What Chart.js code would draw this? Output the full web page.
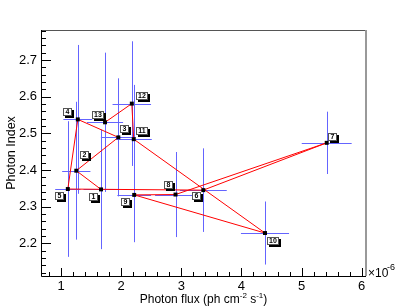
<!DOCTYPE html>
<html>
<head>
<meta charset="utf-8">
<script src="https://cdn.jsdelivr.net/npm/chart.js@4.4.0/dist/chart.umd.min.js"></script>
<style>
body { margin: 0; background: #fff; }
#wrap { width: 407px; height: 307px; }
</style>
</head>
<body>
<div id="wrap"><canvas id="myChart" width="407" height="307"></canvas></div>
<script>
// data (flux in units of 1e-6 ph cm-2 s-1)
const pointLabels = ['1', '2', '3', '4', '5', '6', '7', '8', '9', '10', '11', '12', '13'];
const fluxVals  = [1.665, 1.254, 1.953, 1.279, 1.113, 3.366, 5.418, 2.904, 2.217, 4.392, 2.209, 2.177, 1.732];
const fluxErr   = [0.29, 0.235, 0.29, 0.24, 0.21, 0.39, 0.415, 0.34, 0.28, 0.40, 0.30, 0.32, 0.30];
const indexVals = [2.347, 2.398, 2.489, 2.538, 2.348, 2.345, 2.474, 2.333, 2.332, 2.228, 2.484, 2.581, 2.530];
const indexErr  = [0.163, 0.188, 0.161, 0.203, 0.185, 0.114, 0.085, 0.116, 0.129, 0.086, 0.148, 0.170, 0.190];
const xTicks = [1, 2, 3, 4, 5, 6];
const yTicks = [2.2, 2.3, 2.4, 2.5, 2.6, 2.7];

// where each number box sits relative to its point (px)
const labelOffsets = [[-8, 8], [8, -16], [6, -8], [-10, -7], [-8, 7], [-7, 6], [6, -6],
                      [-7, -10], [-9, 7], [8, 8], [8, -8], [10, -8], [-7, -7]];

const FONT = '"Liberation Sans", Arial, sans-serif';

const rootPlot = {
    id: 'rootPlot',
    beforeDatasetsDraw(chart) {
        const {ctx, scales: {x, y}} = chart;
        ctx.save();
        ctx.strokeStyle = '#6464ff';
        ctx.lineWidth = 1;
        ctx.beginPath();
        for (let i = 0; i < fluxVals.length; i++) {
            const px = Math.round(x.getPixelForValue(fluxVals[i])) + 0.5;
            const py = Math.round(y.getPixelForValue(indexVals[i])) + 0.5;
            ctx.moveTo(x.getPixelForValue(fluxVals[i] - fluxErr[i]), py);
            ctx.lineTo(x.getPixelForValue(fluxVals[i] + fluxErr[i]), py);
            ctx.moveTo(px, y.getPixelForValue(indexVals[i] + indexErr[i]));
            ctx.lineTo(px, y.getPixelForValue(indexVals[i] - indexErr[i]));
        }
        ctx.stroke();
        ctx.restore();
    },
    afterDatasetsDraw(chart) {
        const {ctx, scales: {x, y}} = chart;
        ctx.save();
        ctx.font = 'bold 7px ' + FONT;
        ctx.textAlign = 'center';
        ctx.textBaseline = 'middle';
        for (let i = 0; i < pointLabels.length; i++) {
            const cx = x.getPixelForValue(fluxVals[i]) + labelOffsets[i][0];
            const cy = y.getPixelForValue(indexVals[i]) + labelOffsets[i][1];
            const w = pointLabels[i].length > 1 ? 12 : 9;
            const h = 8;
            const bx = Math.round(cx - w / 2), by = Math.round(cy - h / 2);
            ctx.fillStyle = '#000';
            ctx.fillRect(bx + 2, by + 2, w, h);
            ctx.fillStyle = '#fff';
            ctx.fillRect(bx, by, w, h);
            ctx.strokeStyle = '#555';
            ctx.lineWidth = 1;
            ctx.strokeRect(bx + 0.5, by + 0.5, w - 1, h - 1);
            ctx.fillStyle = '#000';
            ctx.fillText(pointLabels[i], bx + w / 2, by + h / 2 + 0.5);
        }
        ctx.restore();
    },
    afterDraw(chart) {
        const {ctx, chartArea: a, scales: {x, y}} = chart;
        ctx.save();
        // frame
        ctx.lineWidth = 1;
        ctx.strokeStyle = '#555';
        ctx.beginPath();
        ctx.moveTo(a.left, a.top + 0.5);
        ctx.lineTo(a.right, a.top + 0.5);
        ctx.stroke();
        ctx.strokeStyle = '#999';
        ctx.lineWidth = 2;
        ctx.beginPath();
        ctx.moveTo(a.right, a.top);
        ctx.lineTo(a.right, a.bottom);
        ctx.stroke();

        ctx.strokeStyle = '#000';
        ctx.lineWidth = 1;
        ctx.beginPath();
        ctx.moveTo(a.left + 0.5, a.top);
        ctx.lineTo(a.left + 0.5, a.bottom + 0.5);
        ctx.lineTo(a.right, a.bottom + 0.5);
        // x ticks, every 0.2, major every 1
        for (let k = 4; k <= 30; k++) {
            const v = k * 0.2;
            if (v < x.min || v > x.max) continue;
            const px = Math.round(x.getPixelForValue(v)) + 0.5;
            const len = (k % 5 === 0) ? 8 : 4;
            ctx.moveTo(px, a.bottom);
            ctx.lineTo(px, a.bottom - len);
        }
        // y ticks, every 0.02, major every 0.1
        for (let k = 105; k <= 140; k++) {
            const v = k * 0.02;
            if (v < y.min || v > y.max) continue;
            const py = Math.round(y.getPixelForValue(v)) + 0.5;
            const len = (k % 5 === 0) ? 10 : 5;
            ctx.moveTo(a.left, py);
            ctx.lineTo(a.left + len, py);
        }
        ctx.stroke();

        // tick labels
        ctx.fillStyle = '#000';
        ctx.font = '13px ' + FONT;
        ctx.textAlign = 'center';
        ctx.textBaseline = 'alphabetic';
        xTicks.forEach(v => ctx.fillText(String(v), x.getPixelForValue(v), 290));
        ctx.textAlign = 'right';
        ctx.textBaseline = 'middle';
        yTicks.forEach(v => ctx.fillText(v.toFixed(1), a.left - 4, y.getPixelForValue(v)));

        // exponent
        ctx.textAlign = 'left';
        ctx.textBaseline = 'alphabetic';
        ctx.font = '12px ' + FONT;
        ctx.fillText('\u00d710', 368, 277);
        ctx.font = '9px ' + FONT;
        ctx.fillText('-6', 387, 270);

        // x title with superscripts
        const parts = [['Photon flux (ph cm', 12, 0], ['-2', 8, -5], [' s', 12, 0], ['-1', 8, -5], [')', 12, 0]];
        let total = 0;
        parts.forEach(p => { ctx.font = p[1] + 'px ' + FONT; total += ctx.measureText(p[0]).width; });
        let tx = (a.left + a.right) / 2 - total / 2;
        parts.forEach(p => {
            ctx.font = p[1] + 'px ' + FONT;
            ctx.fillText(p[0], tx, 303 + p[2]);
            tx += ctx.measureText(p[0]).width;
        });

        // y title
        ctx.translate(12, 153);
        ctx.rotate(-Math.PI / 2);
        ctx.font = '12.5px ' + FONT;
        ctx.textAlign = 'center';
        ctx.textBaseline = 'middle';
        ctx.fillText('Photon Index', 0, 0);
        ctx.restore();
    }
};

const ctx = document.getElementById('myChart').getContext('2d');
const myChart = new Chart(ctx, {
    type: 'scatter',
    data: {
        datasets: [{
            data: fluxVals.map((v, i) => ({x: v, y: indexVals[i]})),
            showLine: true,
            borderColor: '#ff0000',
            borderWidth: 1,
            pointStyle: 'rect',
            pointRadius: 2.8,
            pointBackgroundColor: '#000',
            pointBorderColor: '#000',
            pointBorderWidth: 0
        }]
    },
    options: {
        responsive: false,
        animation: false,
        layout: { padding: { left: 41, right: 41, top: 30, bottom: 31 } },
        scales: {
            x: { type: 'linear', display: false, min: 0.667, max: 6.0715 },
            y: { type: 'linear', display: false, min: 2.1108, max: 2.7818 }
        },
        plugins: {
            legend: { display: false },
            tooltip: { enabled: false }
        }
    },
    plugins: [rootPlot]
});
</script>
</body>
</html>
